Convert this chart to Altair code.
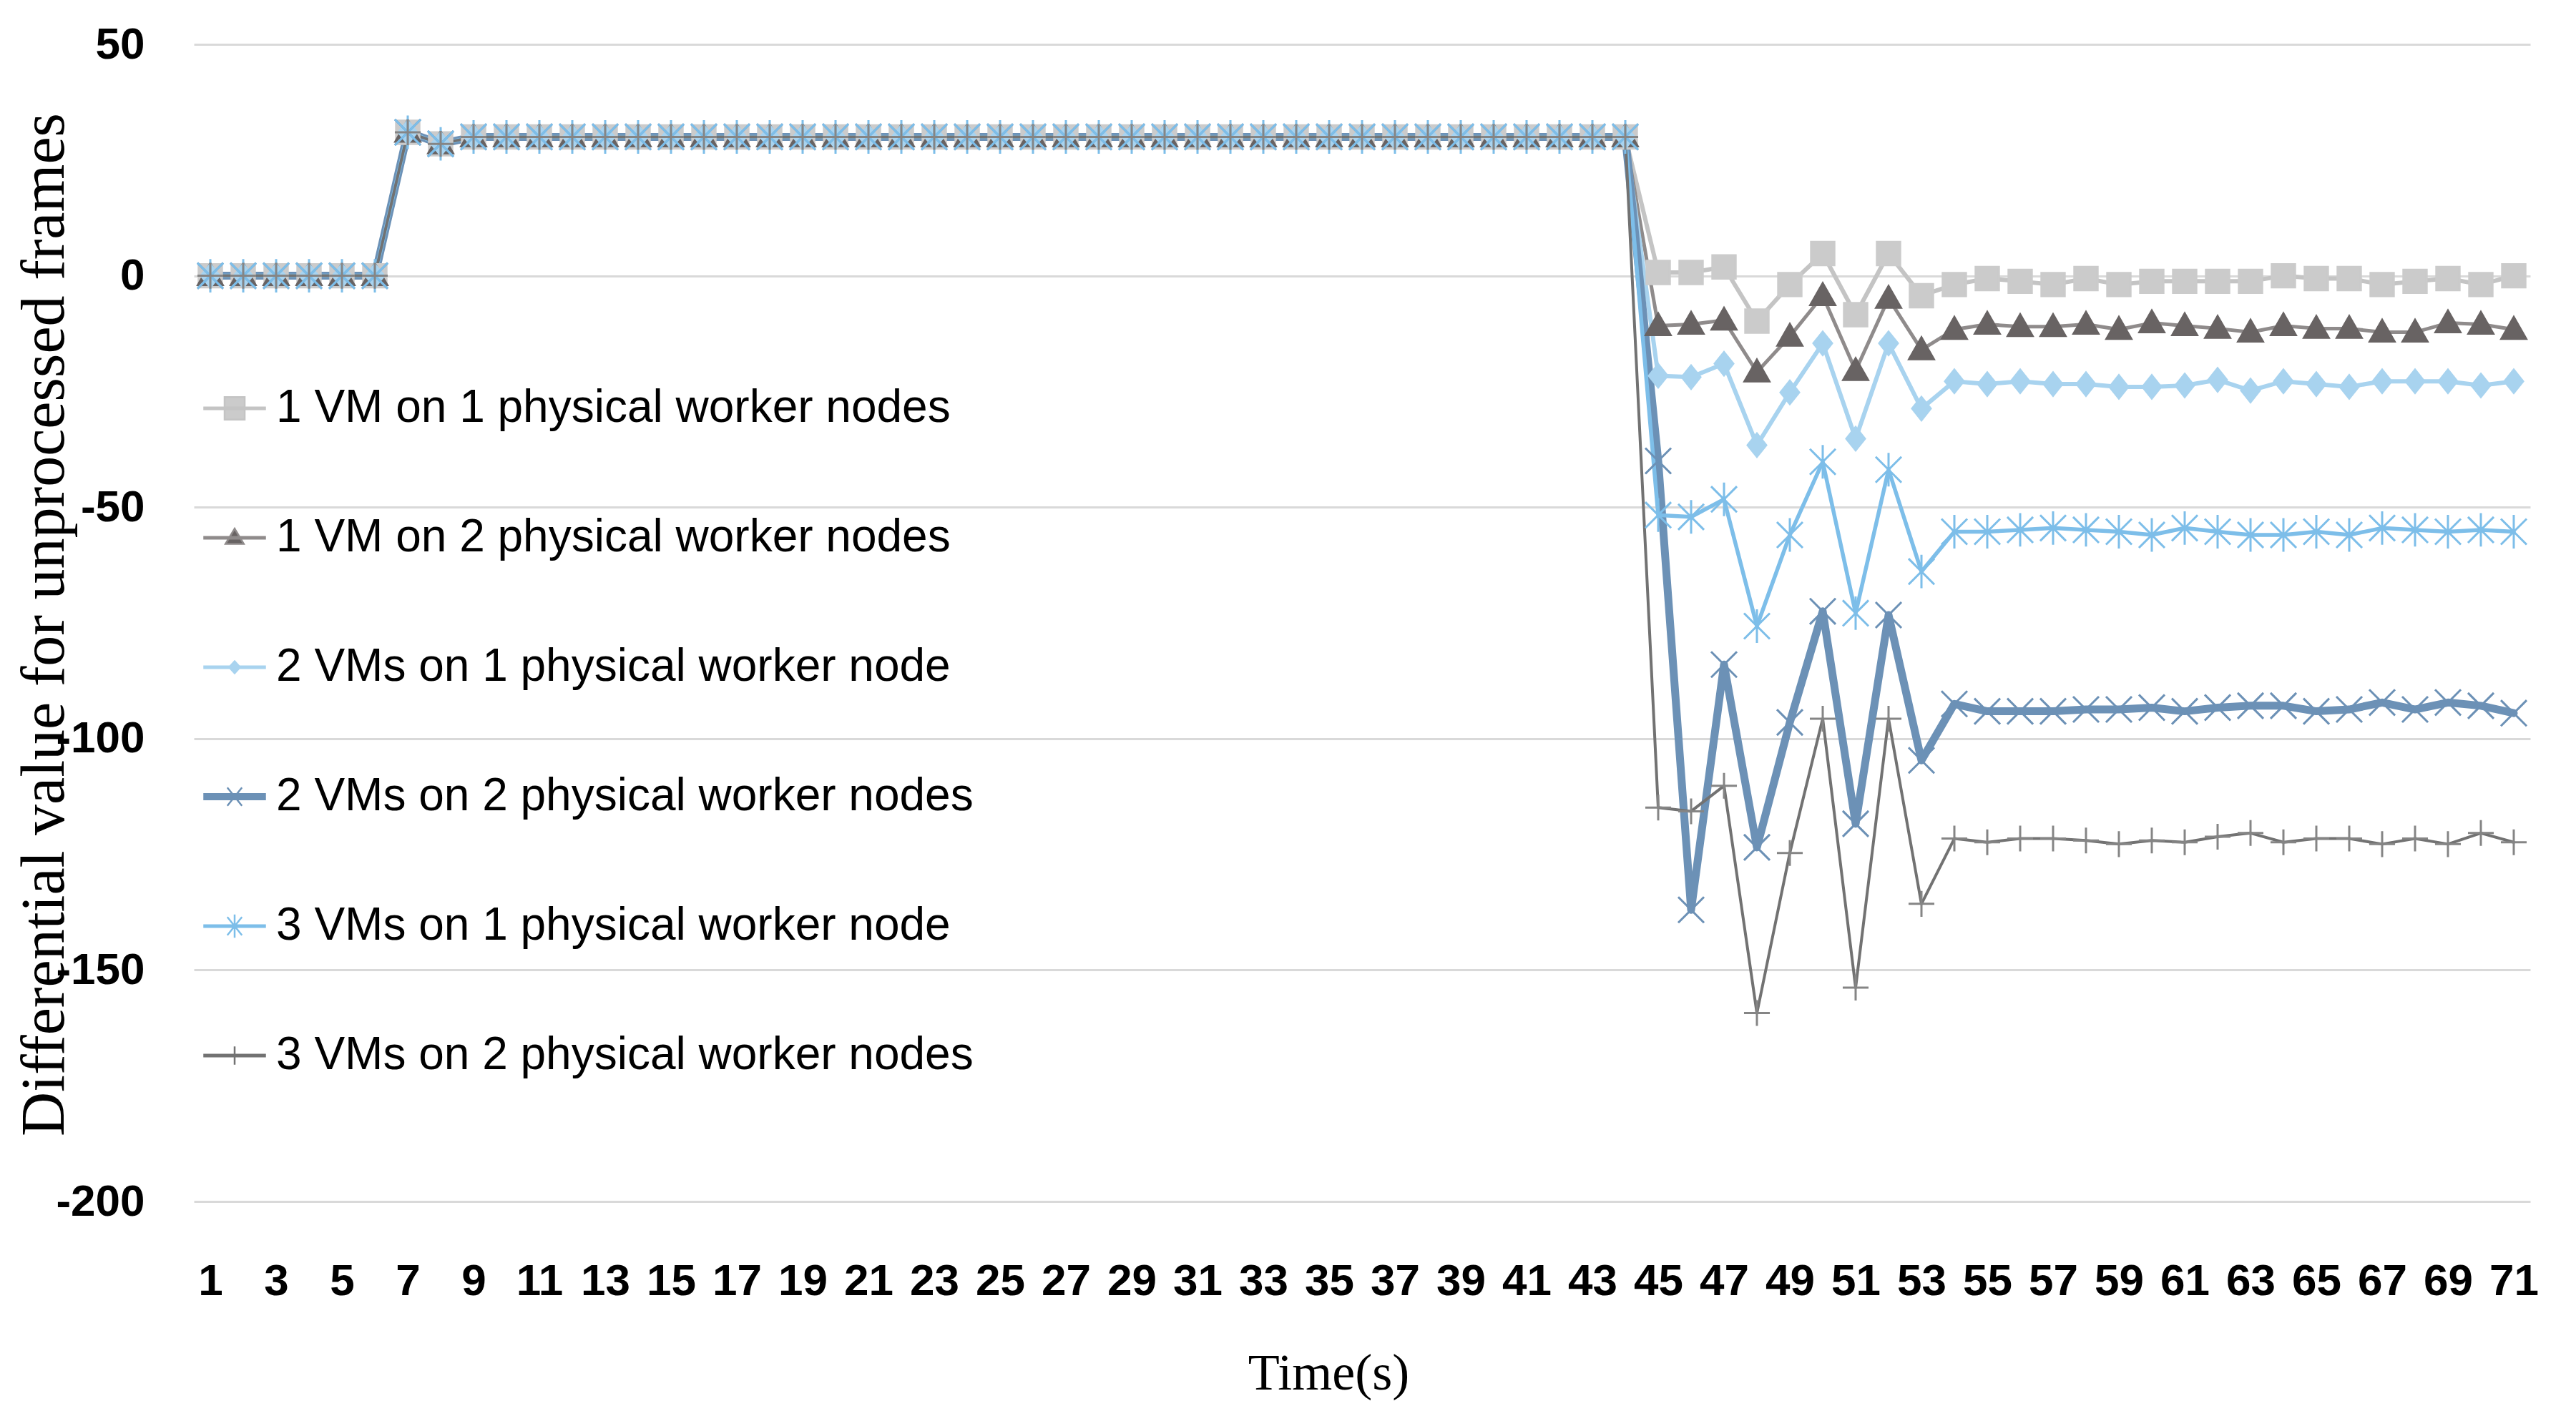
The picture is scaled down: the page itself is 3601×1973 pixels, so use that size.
import altair as alt
import pandas as pd

# ---------------- data ----------------
time_s = list(range(1, 72))
x_tick_values = [1, 3, 5, 7, 9, 11, 13, 15, 17, 19, 21, 23, 25, 27, 29, 31, 33, 35,
                 37, 39, 41, 43, 45, 47, 49, 51, 53, 55, 57, 59, 61, 63, 65, 67, 69, 71]
y_tick_values = [50, 0, -50, -100, -150, -200]

series_names = [
    "1 VM on 1 physical worker nodes",
    "1 VM on 2 physical worker nodes",
    "2 VMs on 1 physical worker node",
    "2 VMs on 2 physical worker nodes",
    "3 VMs on 1 physical worker node",
    "3 VMs on 2 physical worker nodes",
]

# seconds 1..44 (identical for all configurations)
startup = [0, 0, 0, 0, 0, 0, 31, 28.5, 30, 30, 30, 30, 30, 30, 30, 30, 30, 30,
           30, 30, 30, 30, 30, 30, 30, 30, 30, 30, 30, 30, 30, 30, 30, 30, 30, 30,
           30, 30, 30, 30, 30, 30, 30, 30]

# seconds 45..71
tail_1vm_1node = [0.7, 0.7, 1.9, -9.8, -1.9, 4.8, -8.4, 4.8, -4.3, -1.9, -0.6, -1.2, -1.9, -0.6,
                  -1.9, -1.2, -1.2, -1.2, -1.2, 0, -0.6, -0.6, -1.9, -1.2, -0.6, -1.9, 0]
tail_1vm_2node = [-10.8, -10.5, -9.6, -20.8, -13.1, -4.3, -20.5, -4.9, -16, -11.6, -10.5, -11, -11,
                  -10.5, -11.6, -10.2, -10.8, -11.4, -12.2, -10.8, -11.4, -11.4, -12.2, -12.2,
                  -10.2, -10.5, -11.6]
tail_2vm_1node = [-21.6, -21.9, -19, -36.6, -25.2, -14.6, -35.2, -14.6, -28.7, -22.8, -23.4, -22.8,
                  -23.4, -23.4, -24, -24, -23.7, -22.5, -24.8, -22.8, -23.4, -24, -22.8, -22.8,
                  -22.8, -23.7, -22.8]
tail_2vm_2node = [-40, -137, -84, -123.5, -96.5, -72.5, -118.4, -73.3, -104.7, -92.5, -94.1, -94.1,
                  -94.1, -93.7, -93.7, -93.3, -94.1, -93.3, -92.9, -92.9, -94.1, -93.7, -92.2,
                  -93.7, -92.2, -92.9, -94.5]
tail_3vm_1node = [-51.7, -52.1, -48.3, -75.7, -56, -40.2, -72.9, -41.9, -63.9, -55.3, -55.3, -54.9,
                  -54.5, -54.9, -55.3, -56, -54.5, -55.3, -56, -56, -55.3, -56, -54.5, -54.9,
                  -55.3, -54.9, -55.3]
tail_3vm_2node = [-114.9, -115.7, -110.2, -159.3, -124.7, -95.7, -153.8, -95.7, -135.7, -121.6,
                  -122.4, -121.6, -121.6, -122, -122.8, -122, -122.4, -121.2, -120.4, -122.4,
                  -121.6, -121.6, -122.8, -121.6, -122.8, -120.4, -122.4]

series_values = [
    startup + tail_1vm_1node,
    startup + tail_1vm_2node,
    startup + tail_2vm_1node,
    startup + tail_2vm_2node,
    startup + tail_3vm_1node,
    startup + tail_3vm_2node,
]

# ---------------- styles ----------------
line_colors = ["#C4C4C4", "#8F8B8B", "#A8D3EF", "#6C91B6", "#7DBEE9", "#727272"]
marker_colors = ["#CBCBCB", "#686363", "#A8D3EF", "#6C91B6", "#7DBEE9", "#858585"]
line_widths = [6, 5, 6, 11, 5.5, 4]
marker_paths = [
    "M-1,-1H1V1H-1Z",
    "M0,-1L1,0.75H-1Z",
    "M0,-1L0.8,0L0,1L-0.8,0Z",
    "M-1,-1L1,1M-1,1L1,-1",
    "M-1,-1L1,1M-1,1L1,-1M0,-1.3V1.3",
    "M-1,0H1M0,-1V1",
]
marker_sizes = [1050, 1200, 1050, 1300, 1300, 1300]
legend_paths = [
    "M-1,-0.03H1V0.03H-1Z M-0.33,-0.37H0.33V0.37H-0.33Z",
    "M-1,-0.03H1V0.03H-1Z M0,-0.3L0.3,0.2H-0.3Z",
    "M-1,-0.03H1V0.03H-1Z M0,-0.2L0.18,0L0,0.2L-0.18,0Z",
    "M-1,-0.09H1V0.09H-1Z M-0.24,-0.3L0.24,0.3M-0.24,0.3L0.24,-0.3",
    "M-1,-0.03H1V0.03H-1Z M-0.24,-0.3L0.24,0.3M-0.24,0.3L0.24,-0.3M0,-0.38V0.38",
    "M-1,-0.03H1V0.03H-1Z M0,-0.3V0.3",
]

rows = []
for name, vals in zip(series_names, series_values):
    for t, v in zip(time_s, vals):
        rows.append({"time": t, "value": v, "series": name})
df = pd.DataFrame(rows)

SANS = "Liberation Sans"
SERIF = "Liberation Serif"

x_enc = alt.X(
    "time:Q",
    scale=alt.Scale(domain=[0.5, 71.5], nice=False, zero=False),
    axis=alt.Axis(
        values=x_tick_values, title="Time(s)", grid=False, domain=False, ticks=False,
        labelFont=SANS, labelFontSize=62, labelFontWeight="bold", labelColor="black",
        labelPadding=111, labelBaseline="middle", labelFlush=False, labelOverlap=False,
        titleFont=SERIF, titleFontSize=72, titleFontWeight="normal", titleColor="black",
        titleX=1586, titleY=240, titleBaseline="middle", titleAlign="center",
    ),
)
y_enc = alt.Y(
    "value:Q",
    scale=alt.Scale(domain=[-200, 50], nice=False, zero=False),
    axis=alt.Axis(
        values=y_tick_values, title="Differential value for unprocessed frames",
        grid=True, gridColor="#D9D9D9", gridWidth=3, domain=False, ticks=False, tickSize=0,
        labelFont=SANS, labelFontSize=62, labelFontWeight="bold", labelColor="black",
        labelPadding=69, labelExpr="'' + datum.value",
        titleFont=SERIF, titleFontSize=86, titleFontWeight="normal", titleColor="black",
        titleAngle=270, titleX=-209, titleY=811, titleBaseline="middle", titleAlign="center",
    ),
)

base = alt.Chart(df)

lines = base.mark_line(strokeJoin="round", strokeCap="round").encode(
    x=x_enc, y=y_enc,
    color=alt.Color("series:N", scale=alt.Scale(domain=series_names, range=line_colors), legend=None),
    strokeWidth=alt.StrokeWidth(
        "series:N",
        scale=alt.Scale(type="ordinal", domain=series_names, range=line_widths),
        legend=None,
    ),
)

points = base.mark_point(filled=True, strokeWidth=3, opacity=1).encode(
    x=x_enc, y=y_enc,
    fill=alt.Fill("series:N", scale=alt.Scale(domain=series_names, range=marker_colors), legend=None),
    stroke=alt.Stroke("series:N", scale=alt.Scale(domain=series_names, range=marker_colors), legend=None),
    shape=alt.Shape("series:N", scale=alt.Scale(domain=series_names, range=marker_paths), legend=None),
    size=alt.Size(
        "series:N",
        scale=alt.Scale(type="ordinal", domain=series_names, range=marker_sizes),
        legend=None,
    ),
)

leg = alt.Legend(
    title=None, orient="none", legendX=13, legendY=465, padding=0,
    labelFont=SANS, labelFontSize=64, labelColor="black", labelLimit=3000, labelOffset=14,
    symbolSize=7225, symbolStrokeWidth=2.5, symbolOpacity=1, rowPadding=105,
)

legend_layer = base.mark_point(filled=True, opacity=0).encode(
    x=x_enc, y=y_enc,
    fill=alt.Fill("series:N", scale=alt.Scale(domain=series_names, range=marker_colors), legend=leg),
    stroke=alt.Stroke("series:N", scale=alt.Scale(domain=series_names, range=line_colors), legend=leg),
    shape=alt.Shape("series:N", scale=alt.Scale(domain=series_names, range=legend_paths), legend=leg),
)

chart = (
    alt.layer(lines, points, legend_layer)
    .resolve_scale(fill="independent", stroke="independent", shape="independent", size="independent")
    .properties(
        width=3266, height=1618,
        autosize=alt.AutoSizeParams(type="none"),
        padding={"left": 263, "top": 54, "right": 20, "bottom": 280},
        background="white",
    )
    .configure_view(stroke=None)
)

chart.save("out.html", embed_options={"renderer": "svg", "actions": False})
